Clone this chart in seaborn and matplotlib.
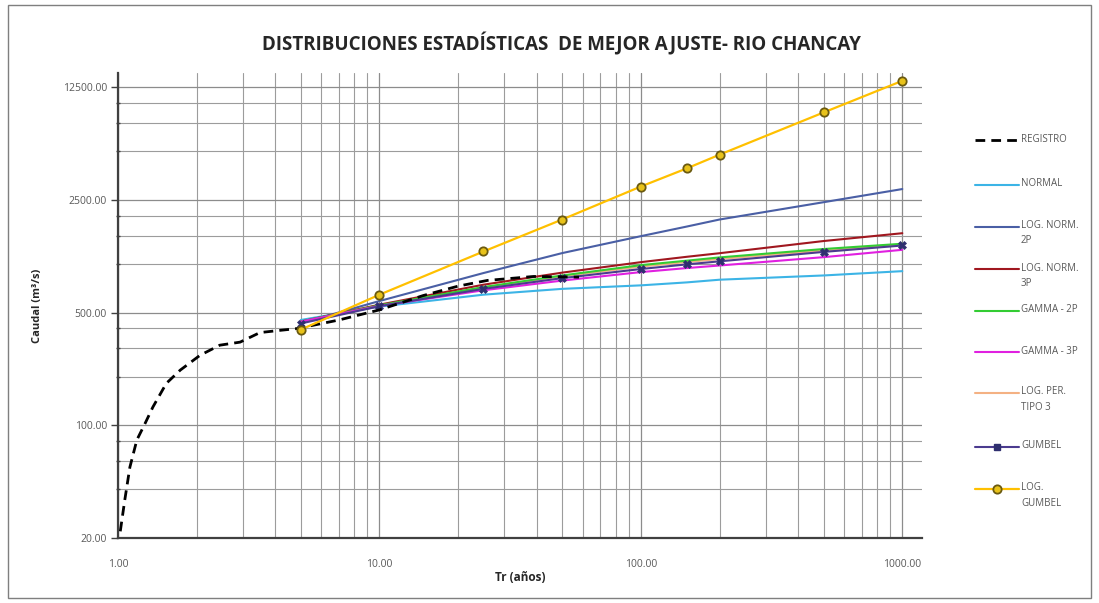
import matplotlib
matplotlib.use("Agg")
import matplotlib.pyplot as plt
from matplotlib.lines import Line2D
from matplotlib.patches import Rectangle
from matplotlib.ticker import FixedLocator, FixedFormatter, NullFormatter
import seaborn as sns
import pandas as pd

# Return periods (years) at which the fitted distributions are evaluated
tr = [5, 10, 25, 50, 100, 150, 200, 500, 1000]

# Fitted discharges (m3/s) per distribution
q_normal = [450, 545, 646, 702, 738, 770, 800, 850, 904]
q_lognorm2p = [430, 590, 880, 1170, 1490, 1710, 1890, 2420, 2920]
q_lognorm3p = [440, 560, 745, 885, 1028, 1110, 1168, 1390, 1554]
q_gamma2p = [440, 555, 720, 850, 985, 1050, 1100, 1240, 1337]
q_gamma3p = [440, 550, 688, 790, 892, 945, 980, 1104, 1226]
q_logpearson3 = [438, 552, 715, 840, 965, 1030, 1075, 1215, 1320]
q_gumbel = [428, 548, 702, 818, 932, 996, 1040, 1190, 1304]
q_loggumbel = [392, 646, 1197, 1890, 3028, 3925, 4772, 8720, 13700]

# Observed record (Weibull plotting positions)
registro_tr = [1.02, 1.06, 1.11, 1.18, 1.27, 1.36, 1.53, 1.73, 2.06, 2.45,
               2.93, 3.49, 4.16, 4.83, 7.0, 10.0, 14.7, 20.0, 25.9, 38.9, 58.0]
registro_q = [22, 34, 55, 81, 103, 130, 182, 220, 272, 314,
              328, 376, 388, 398, 450, 520, 638, 730, 792, 838, 830]

y_ticks = [20, 100, 500, 2500, 12500]
y_minor = [40, 60, 80, 200, 300, 400, 1000, 1500, 2000, 5000, 7500, 10000]
x_ticks = [1, 10, 100, 1000]

title = "DISTRIBUCIONES ESTADÍSTICAS  DE MEJOR AJUSTE- RIO CHANCAY"

sns.set_theme(style="white")
plt.rcParams["font.family"] = ["Open Sans", "DejaVu Sans"]

W, H = 1099, 603
fig = plt.figure(figsize=(W / 100, H / 100), dpi=100)
ax = fig.add_axes([0.1074, 0.1078, 0.7316, 0.771])

# Outer chart border
fig.patches.append(Rectangle((0.007, 0.008), 0.986, 0.984, transform=fig.transFigure,
                             fill=False, edgecolor="#7f7f7f", linewidth=1.0))

REG_STYLE = dict(color="black", linewidth=2.0, linestyle=(0, (3.5, 2.2)))
LG_MARK = dict(marker="o", markersize=6, markerfacecolor="#E8C21A",
               markeredgecolor="#6B5A10", markeredgewidth=1.3)

series = [
    ("LOG. PER.\nTIPO 3", q_logpearson3, "#F4B183", None),
    ("NORMAL", q_normal, "#3CB4E6", None),
    ("LOG. NORM.\n2P", q_lognorm2p, "#4A5FA5", None),
    ("LOG. NORM.\n3P", q_lognorm3p, "#A0171F", None),
    ("GAMMA - 2P", q_gamma2p, "#33CC33", None),
    ("GAMMA - 3P", q_gamma3p, "#E020E0", None),
    ("GUMBEL", q_gumbel, "#4B3B8F", "X"),
]

for label, q, color, marker in series:
    df = pd.DataFrame({"tr": tr, "q": q})
    kw = {}
    if marker:
        kw = dict(marker=marker, markersize=5.5, markeredgewidth=0.5,
                  markerfacecolor="#2F2F6F", markeredgecolor="#2F2F6F")
    sns.lineplot(data=df, x="tr", y="q", ax=ax, color=color, linewidth=1.5,
                 legend=False, **kw)

df_reg = pd.DataFrame({"tr": registro_tr, "q": registro_q})
sns.lineplot(data=df_reg, x="tr", y="q", ax=ax, legend=False, **REG_STYLE)

df_lg = pd.DataFrame({"tr": tr, "q": q_loggumbel})
sns.lineplot(data=df_lg, x="tr", y="q", ax=ax, color="#FFC000", linewidth=1.6,
             legend=False, **LG_MARK)

ax.set_xscale("log")
ax.set_yscale("log")
ax.set_xlim(1, 1190)
ax.set_ylim(20, 15300)

ax.yaxis.set_major_locator(FixedLocator(y_ticks))
ax.yaxis.set_major_formatter(FixedFormatter([f"{v:.2f}" for v in y_ticks]))
ax.yaxis.set_minor_locator(FixedLocator(y_minor))
ax.yaxis.set_minor_formatter(NullFormatter())
ax.xaxis.set_major_locator(FixedLocator(x_ticks))
ax.xaxis.set_major_formatter(FixedFormatter([f"{v:.2f}" for v in x_ticks]))
ax.xaxis.set_minor_formatter(NullFormatter())

ax.grid(which="major", color="#8c8c8c", linewidth=0.9)
ax.grid(which="minor", color="#9c9c9c", linewidth=0.8)
ax.set_axisbelow(True)

for side in ["top", "right"]:
    ax.spines[side].set_visible(False)
for side in ["left", "bottom"]:
    ax.spines[side].set_color("#404040")
    ax.spines[side].set_linewidth(1.6)

ax.tick_params(axis="both", which="major", length=5, width=1, color="#404040",
               labelsize=7.5, labelcolor="#595959", direction="out", pad=3,
               left=True, bottom=False)
ax.tick_params(axis="y", which="minor", length=3, width=1, color="#404040",
               direction="inout", left=True)
ax.tick_params(axis="x", which="minor", bottom=False)
ax.tick_params(axis="x", which="major", pad=10)

ax.set_xlabel("Tr (años)", fontsize=8.5, fontweight="bold", color="#262626", labelpad=1)
ax.set_ylabel("Caudal (m³/s)", fontsize=8, fontweight="bold", color="#262626", labelpad=14)

fig.text(0.511, 0.927, title, ha="center", va="center", fontsize=13.5,
         fontweight="bold", color="#262626")

# Legend drawn entry by entry: handle aligned with the first text line
legend_items = [
    ("REGISTRO", dict(REG_STYLE), 140),
    ("NORMAL", dict(color="#3CB4E6", linewidth=1.5), 185),
    ("LOG. NORM.\n2P", dict(color="#4A5FA5", linewidth=1.5), 227),
    ("LOG. NORM.\n3P", dict(color="#A0171F", linewidth=1.5), 269),
    ("GAMMA - 2P", dict(color="#33CC33", linewidth=1.5), 311),
    ("GAMMA - 3P", dict(color="#E020E0", linewidth=1.5), 352),
    ("LOG. PER.\nTIPO 3", dict(color="#F4B183", linewidth=1.5), 393),
    ("GUMBEL", dict(color="#4B3B8F", linewidth=1.5, marker="s", markersize=4,
                    markerfacecolor="#2F2F6F", markeredgecolor="#2F2F6F"), 447),
    ("LOG.\nGUMBEL", dict(color="#FFC000", linewidth=1.6, **LG_MARK), 489),
]
x0, x1, xt = 975, 1019, 1021
for label, style, ypx in legend_items:
    yf = 1 - ypx / H
    if "marker" in style:
        line = Line2D([x0 / W, (x0 + x1) / 2 / W, x1 / W], [yf, yf, yf],
                      transform=fig.transFigure, markevery=[1], **style)
    else:
        line = Line2D([x0 / W, x1 / W], [yf, yf], transform=fig.transFigure, **style)
    fig.lines.append(line)
    fig.text(xt / W, yf + 6.5 / H, label, ha="left", va="top", fontsize=7,
             color="#595959", linespacing=1.5)

fig.savefig("out.png", dpi=100)
